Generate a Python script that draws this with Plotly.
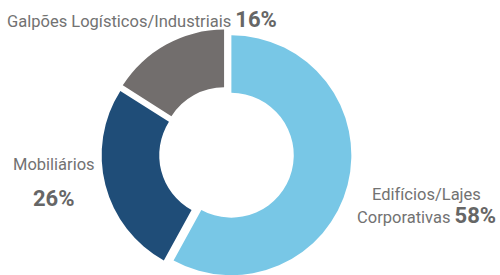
import plotly.graph_objects as go

categories = ["Edifícios/Lajes Corporativas", "Mobiliários", "Galpões Logísticos/Industriais"]
values = [58, 26, 16]
colors = ["#78C7E6", "#1F4D78", "#726E6D"]

W, H = 500, 283
FONT = "Roboto"
TXT = "#727272"
PCT = "#666666"

def px(x):
    return x / W

def py(y):
    return (H - y) / H

pct = [f"{v}%" for v in values]

cx, cy, half = 226.5, 154, 125
fig = go.Figure(go.Pie(
    labels=categories,
    values=values,
    sort=False,
    direction="clockwise",
    rotation=0,
    hole=0.52,
    pull=[0.042, 0.042, 0.042],
    marker=dict(colors=colors, line=dict(color="white", width=0)),
    textinfo="none",
    hoverinfo="label+percent",
    showlegend=False,
    domain=dict(x=[px(cx - half), px(cx + half)], y=[py(cy + half), py(cy - half)]),
))

BIG = f"font-size:22px;color:{PCT}"
anns = [
    dict(x=px(5), y=py(20), xanchor="left", yanchor="middle",
         text=f"{categories[2]} <span style='{BIG}'><b>{pct[2]}</b></span>"),
    dict(x=px(54), y=py(165), xanchor="center", yanchor="middle",
         text=categories[1]),
    dict(x=px(54), y=py(198), xanchor="center", yanchor="middle",
         text=f"<span style='{BIG}'><b>{pct[1]}</b></span>"),
    dict(x=px(426), y=py(194), xanchor="center", yanchor="middle",
         text="Edifícios/Lajes"),
    dict(x=px(426), y=py(215), xanchor="center", yanchor="middle",
         text=f"Corporativas <span style='{BIG}'><b>{pct[0]}</b></span>"),
]
for a in anns:
    a.update(xref="paper", yref="paper", showarrow=False,
             font=dict(family=FONT, size=16.5, color=TXT))

fig.update_layout(
    width=W, height=H,
    margin=dict(l=0, r=0, t=0, b=0),
    paper_bgcolor="white", plot_bgcolor="white",
    annotations=anns,
)

fig.write_html(
    "out.html",
    config={"displayModeBar": False},
    post_script="document.body.style.margin='0';document.body.style.overflow='hidden';document.documentElement.style.overflow='hidden';",
)
